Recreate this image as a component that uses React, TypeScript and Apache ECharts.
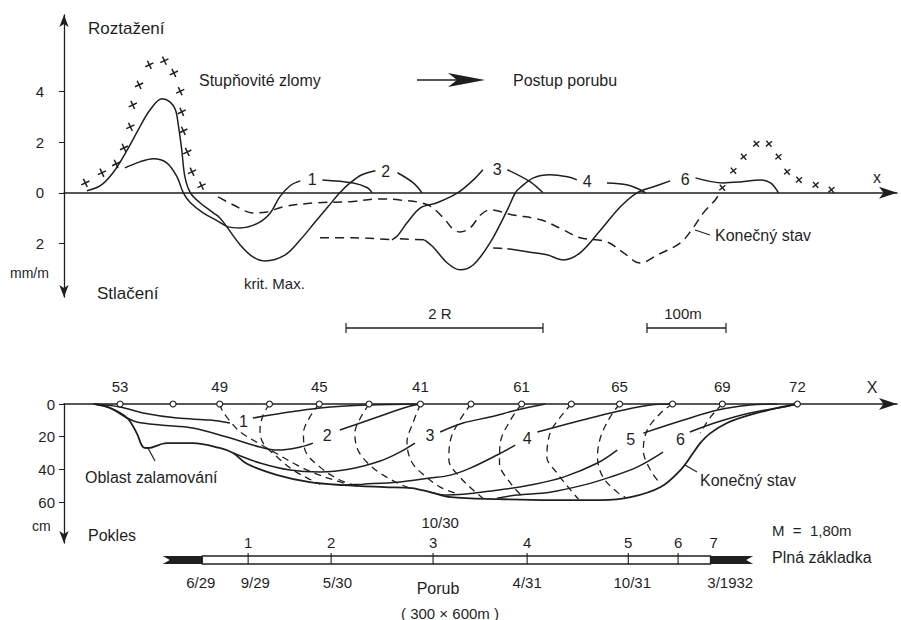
import React, { useEffect, useRef } from 'react';
import * as echarts from 'echarts';

const FONT = "'Liberation Sans', 'DejaVu Sans', Arial, sans-serif";
const INK = '#1f1f1f';

// ---------- top panel: strain (mm/m), x in metres ----------
const crossesLeft = [[27,0.39],[48,0.79],[66,1.14],[76,1.77],[84,2.6],[87,3.46],[95,4.25],[108,5.04],[127,5.2],[139,4.72],[147,4.0],[149,3.19],[151,2.44],[156,1.61],[162,0.83],[174,0.28]];
const crossesRight = [[833,0.2],[847,0.87],[860,1.42],[876,1.93],[892,1.93],[904,1.42],[915,0.83],[930,0.51],[951,0.31],[971,0.12]];

const strain1Head = [[77,0.98],[96,1.22],[113,1.34],[130,1.18],[143,0.63],[151,0],[160,-0.39],[176,-0.79],[194,-1.1],[208,-1.34],[223,-1.38],[246,-1.18],[261,-0.79],[273,-0.16],[286,0.28],[299,0.47]];
const strain1Tail = [[327,0.51],[366,0.39],[384,0.2],[390,0]];
const strain2Head = [[29,0.08],[46,0.28],[62,0.79],[80,1.69],[96,2.6],[109,3.27],[124,3.7],[134,3.58],[141,3.27],[145,2.6],[149,1.69],[153,0.63],[160,0],[172,-0.39],[189,-0.79],[197,-0.98],[206,-1.34],[223,-2.05],[239,-2.52],[254,-2.68],[280,-2.44],[299,-1.85],[318,-1.14],[334,-0.55],[349,0],[362,0.39],[377,0.71],[394,0.87]];
const strain2Tail = [[422,0.79],[442,0.39],[453,0]];
const strain3Dash = [[324,-1.77],[366,-1.77],[415,-1.85]];
const strain3Head = [[415,-1.85],[422,-1.69],[434,-1.18],[451,-0.59],[472,-0.39],[498,0],[518,0.51],[530,0.91]];
const strain3Tail = [[561,0.91],[590,0.43],[606,0]];
const strain4Dash = [[425,-1.81],[456,-1.85]];
const strain4Head = [[456,-1.85],[467,-2.13],[485,-2.76],[501,-3.03],[518,-2.83],[539,-1.97],[561,-0.67],[571,0],[577,0.2],[594,0.59],[615,0.71],[637,0.63],[649,0.51]];
const strain4Tail = [[687,0.39],[713,0.31],[729,0.12],[736,0]];
const strain6Dash = [[543,-2.17],[561,-2.2]];
const strain6Head = [[561,-2.2],[586,-2.32],[611,-2.44],[632,-2.64],[653,-2.36],[679,-1.46],[704,-0.55],[725,0],[746,0.24],[767,0.47]];
const strain6Tail = [[799,0.59],[834,0.39],[856,0.43],[881,0.51],[894,0.39],[904,0]];
const strainFinal = [[195,-0.16],[214,-0.47],[239,-0.79],[257,-0.75],[277,-0.55],[320,-0.39],[362,-0.35],[396,-0.24],[425,-0.28],[460,-0.47],[480,-0.98],[492,-1.42],[501,-1.54],[514,-1.38],[527,-0.87],[539,-0.67],[568,-0.87],[603,-1.06],[632,-1.46],[653,-1.77],[687,-1.93],[708,-2.36],[729,-2.76],[751,-2.44],[780,-1.97],[796,-1.38],[809,-0.79],[824,-0.28],[830,0]];
const strainLabels: [number, number, string][] = [[314,0.51,'1'],[407,0.83,'2'],[548,0.91,'3'],[662,0.43,'4'],[786,0.51,'6']];
const strainTicks = [-2, 0, 2, 4];

// ---------- bottom panel: subsidence (cm) ----------
const subs1Head = [[37,0],[71,1.8],[100,5.5],[143,8.6],[185,9.8],[210,11.6]];
const subs1Tail = [[239,8.6],[277,5.5],[324,2.4],[384,0.6],[451,0]];
const subs2Head = [[39,0],[58,2.4],[80,8.6],[92,11],[122,12.9],[163,14.7],[206,20.2],[248,26.3],[270,28.2],[299,26.3],[315,23.9]];
const subs2Tail = [[349,15.9],[375,11.6],[404,6.7],[434,1.8],[451,0]];
const subs3Head = [[214,30],[248,36.1],[286,40.4],[324,41.6],[362,39.8],[400,34.9],[425,29.4],[444,23.9]];
const subs3Tail = [[476,17.1],[505,11.6],[539,8],[573,3.7],[609,0]];
const subs4Head = [[353,49.6],[378,49],[422,47.8],[463,45.3],[489,43.5],[514,39.2],[548,31.2],[571,25.1]];
const subs4Tail = [[599,17.1],[632,12.9],[666,8.6],[708,3.7],[742,0.6],[767,0]];
const subs5Head = [[463,53.9],[485,55.7],[548,52.7],[590,49.6],[632,44.7],[675,36.1],[700,28.2]];
const subs5Tail = [[733,17.8],[784,9.8],[827,3.7],[868,0.6],[903,0]];
const subs6Head = [[548,57.6],[573,55.7],[615,53.9],[657,49.6],[691,44.7],[725,38.6],[758,29.4]];
const subs6Tail = [[792,17.1],[827,11],[868,5.5],[910,1.8],[928,0]];
const subsFinal = [[39,0],[58,2.4],[80,8.6],[92,17.8],[100,26.3],[106,26.9],[130,23.9],[163,23.9],[197,26.9],[214,30],[232,36.7],[270,43.5],[311,47.8],[353,49.6],[405,50.8],[440,51.4],[463,53.9],[489,57],[552,58.2],[615,58.8],[679,58.8],[717,57],[755,50.8],[780,40.4],[796,30],[805,23.9],[818,17.8],[839,11.6],[868,6.7],[903,2.4],[928,0]];
const subsLabels: [number, number, string][] = [[227,11,'1'],[333,19,'2'],[463,19,'3'],[586,20.8,'4'],[717,22,'5'],[780,22,'6']];
const timeLines = [
  [[197,0],[200,3.7],[206,8],[223,17.1],[248,24.5],[270,30.6],[295,37.4],[320,42.9],[346,47.2],[362,49.6]],
  [[260,0],[252,6.7],[248,15.9],[252,23.9],[270,32.5],[290,40.4],[308,45.3],[324,49]],
  [[323,0],[311,8],[303,17.8],[305,28.2],[324,38.6],[349,46.5],[375,50.8]],
  [[386,0],[375,8.6],[368,17.8],[372,28.2],[387,37.4],[406,44.1],[425,49],[438,51.4]],
  [[451,0],[442,11],[434,23.3],[440,35.5],[457,44.1],[476,50.8],[495,54.5]],
  [[515,0],[501,9.8],[489,22],[487,34.3],[501,44.7],[518,52.7],[530,57.6]],
  [[579,0],[565,9.8],[552,23.9],[551,36.1],[565,48.4],[581,57]],
  [[642,0],[628,8],[615,17.8],[611,32.5],[624,42.3],[641,52.7],[651,58.2]],
  [[703,0],[691,8],[679,20.2],[675,32.5],[682,44.7],[700,53.9],[710,57]],
  [[770,0],[755,5.5],[738,15.9],[733,28.2],[742,40.4],[755,49]],
  [[833,0],[818,8],[805,17.8]],
];
const surfaceX = [71,138,197,260,323,386,451,515,579,642,703,770,833,928];
const surfaceNames = ['53','','49','','45','','41','','61','','65','','69','72'];
const subsTicks = [0, 20, 40, 60];

// ---------- face advance band (Porub) ----------
const porubSegments = [[125,175,0],[175,818,1],[818,872,2]];
const faceX = [233,338,467,586,714,777];
const faceNumX = [233,338,467,586,714,777,822];
const faceNums = ['1','2','3','4','5','6','7'];
const dateX = [173,242,346,586,719,843];
const dateTexts = ['6/29','9/29','5/30','4/31','10/31','3/1932'];

const XMAX = 1054;

function ln(data: number[][], grid: number, dash?: number[], width = 1.5) {
  return {
    type: 'line', xAxisIndex: grid, yAxisIndex: grid, data, smooth: 0.35,
    symbol: 'none', silent: true, z: 3,
    lineStyle: { color: INK, width, type: dash ?? 'solid' },
  };
}
const hidden = { color: 'rgba(0,0,0,0)', opacity: 1 };
function labelsSeries(items: [number, number, string][], grid: number) {
  return {
    type: 'scatter', xAxisIndex: grid, yAxisIndex: grid, symbolSize: 1, silent: true, z: 5,
    itemStyle: hidden,
    data: items.map(([x, y, t]) => ({ value: [x, y], name: t })),
    label: { show: true, position: 'inside', formatter: '{b}', fontSize: 16, color: INK, fontFamily: FONT, opacity: 1 },
  };
}
function T(text: string, x: number, y: number, size = 16, align = 'left') {
  return { type: 'text', x, y, silent: true, style: { text, fill: INK, font: `${size}px ${FONT}`, align, verticalAlign: 'middle' } };
}
function L(x1: number, y1: number, x2: number, y2: number, w = 1.3) {
  return { type: 'line', silent: true, shape: { x1, y1, x2, y2 }, style: { stroke: INK, lineWidth: w } };
}

const xAxisBase = { type: 'value', min: 0, max: XMAX, axisTick: { show: false }, axisLabel: { show: false }, splitLine: { show: false } };
const lblStyle = { color: INK, fontSize: 15, fontFamily: FONT, opacity: 1 };

const option: any = {
  animation: false,
  backgroundColor: '#fff',
  grid: [
    { left: 64, right: 4, top: 15, height: 282 },
    { left: 64, right: 4, top: 404, height: 139 },
    { left: 64, right: 4, top: 556, height: 8 },
  ],
  xAxis: [
    { ...xAxisBase, gridIndex: 0, axisLine: { onZero: true, symbol: ['none', 'arrow'], symbolSize: [9, 18], lineStyle: { color: INK, width: 1.5 } } },
    { ...xAxisBase, gridIndex: 1, position: 'top', axisLine: { onZero: false, symbol: ['none', 'arrow'], symbolSize: [9, 18], lineStyle: { color: INK, width: 1.5 } } },
    { ...xAxisBase, gridIndex: 2, show: false },
  ],
  yAxis: [
    {
      type: 'value', gridIndex: 0, min: -4.1, max: 7, splitLine: { show: false },
      axisLine: { show: true, symbol: ['arrow', 'arrow'], symbolSize: [7, 12], lineStyle: { color: INK, width: 1.3 } },
      axisTick: { show: true, length: 5, customValues: strainTicks, lineStyle: { color: INK } },
      axisLabel: { customValues: strainTicks, margin: 20, formatter: (v: number) => String(Math.abs(v)), color: INK, fontSize: 15, fontFamily: FONT },
    },
    {
      type: 'value', gridIndex: 1, min: 0, max: 85, inverse: true, splitLine: { show: false },
      axisLine: { show: true, symbol: ['arrow', 'none'], symbolSize: [7, 12], lineStyle: { color: INK, width: 1.3 } },
      axisTick: { show: true, length: 5, customValues: subsTicks, lineStyle: { color: INK } },
      axisLabel: { customValues: subsTicks, margin: 9, color: INK, fontSize: 15, fontFamily: FONT },
    },
    { type: 'value', gridIndex: 2, min: 0, max: 1, show: false },
  ],
  series: [
    // top
    {
      type: 'scatter', xAxisIndex: 0, yAxisIndex: 0, data: crossesLeft, silent: true,
      symbol: 'path://M5 0L5 10M0 5L10 5', symbolSize: 9, symbolRotate: 25,
      itemStyle: { color: 'none', borderColor: INK, borderWidth: 1.5, opacity: 1 },
    },
    {
      type: 'scatter', xAxisIndex: 0, yAxisIndex: 0, data: crossesRight, silent: true,
      symbol: 'path://M5 0L5 10M0 5L10 5', symbolSize: 8, symbolRotate: 40,
      itemStyle: { color: 'none', borderColor: INK, borderWidth: 1.4, opacity: 1 },
    },
    ln(strain1Head, 0), ln(strain1Tail, 0),
    ln(strain2Head, 0), ln(strain2Tail, 0),
    ln(strain3Dash, 0, [9, 6]), ln(strain3Head, 0), ln(strain3Tail, 0),
    ln(strain4Dash, 0, [9, 6]), ln(strain4Head, 0), ln(strain4Tail, 0),
    ln(strain6Dash, 0, [9, 6]), ln(strain6Head, 0), ln(strain6Tail, 0),
    ln(strainFinal, 0, [9, 6]),
    labelsSeries(strainLabels, 0),
    // bottom
    ln(subs1Head, 1), ln(subs1Tail, 1),
    ln(subs2Head, 1), ln(subs2Tail, 1),
    ln(subs3Head, 1), ln(subs3Tail, 1),
    ln(subs4Head, 1), ln(subs4Tail, 1),
    ln(subs5Head, 1), ln(subs5Tail, 1),
    ln(subs6Head, 1), ln(subs6Tail, 1),
    ln(subsFinal, 1, undefined, 1.8),
    ...timeLines.map((d) => ln(d, 1, [7, 5], 1.3)),
    labelsSeries(subsLabels, 1),
    {
      type: 'scatter', xAxisIndex: 1, yAxisIndex: 1, silent: true, z: 6,
      symbol: 'circle', symbolSize: 6,
      itemStyle: { color: '#fff', borderColor: INK, borderWidth: 1.1, opacity: 1 },
      data: surfaceX.map((x, i) => ({ value: [x, 0], name: surfaceNames[i] })),
      label: { show: true, position: 'top', distance: 6, formatter: '{b}', ...lblStyle },
    },
    // band
    {
      type: 'custom', xAxisIndex: 2, yAxisIndex: 2, silent: true, clip: false,
      encode: { x: [0, 1], y: 2 },
      data: [...porubSegments, ...faceX.map((x) => [x, x, 3])],
      renderItem: (params: any, api: any) => {
        const a = api.value(0), b = api.value(1), k = api.value(2);
        const p0 = api.coord([a, 1]);
        const p1 = api.coord([b, 0]);
        const x0 = p0[0], y0 = p0[1], x1 = p1[0], y1 = p1[1];
        const ym = (y0 + y1) / 2, n = 7;
        if (k === 0) return { type: 'polygon', shape: { points: [[x0, y0], [x1, y0], [x1, y1], [x0, y1], [x0 + n, ym]] }, style: { fill: INK } };
        if (k === 2) return { type: 'polygon', shape: { points: [[x0, y0], [x1, y0], [x1 - n, ym], [x1, y1], [x0, y1]] }, style: { fill: INK } };
        if (k === 1) return { type: 'rect', shape: { x: x0, y: y0, width: x1 - x0, height: y1 - y0 }, style: { fill: '#fff', stroke: INK, lineWidth: 1.3 } };
        return { type: 'line', shape: { x1: x0, y1: y0 - 3, x2: x0, y2: y1 }, style: { stroke: INK, lineWidth: 1.1 } };
      },
    },
    {
      type: 'scatter', xAxisIndex: 2, yAxisIndex: 2, symbolSize: 1, silent: true,
      itemStyle: hidden,
      data: faceNumX.map((x, i) => ({ value: [x, 1], name: faceNums[i] })),
      label: { show: true, position: 'top', distance: 6, formatter: '{b}', ...lblStyle },
    },
    {
      type: 'scatter', xAxisIndex: 2, yAxisIndex: 2, symbolSize: 1, silent: true,
      itemStyle: hidden,
      data: dateX.map((x, i) => ({ value: [x, 0], name: dateTexts[i] })),
      label: { show: true, position: 'bottom', distance: 10, formatter: '{b}', ...lblStyle },
    },
    {
      type: 'scatter', xAxisIndex: 2, yAxisIndex: 2, symbolSize: 1, silent: true,
      itemStyle: hidden,
      data: [{ value: [476, 1], name: '10/30' }],
      label: { show: true, position: 'top', distance: 26, formatter: '{b}', ...lblStyle },
    },
  ],
  graphic: [
    T('Roztažení', 88, 28, 17),
    T('Stupňovité zlomy', 199, 80, 16),
    L(417, 80, 458, 80, 1.4),
    { type: 'polygon', silent: true, shape: { points: [[485, 80], [448, 73], [457, 80], [448, 87]] }, style: { fill: INK } },
    T('Postup porubu', 513, 80, 16),
    T('mm/m', 10, 273, 14),
    T('Stlačení', 97, 293, 17),
    T('krit. Max.', 244, 283, 15),
    L(695, 230, 710, 235, 1.2),
    T('Konečný stav', 715, 235, 16),
    T('x', 877, 177, 16, 'center'),
    T('2 R', 440, 313, 15, 'center'),
    L(346, 328, 543, 328, 1.3), L(346, 323, 346, 333, 1.2), L(543, 323, 543, 333, 1.2),
    T('100m', 683, 313, 15, 'center'),
    L(647, 328, 726, 328, 1.3), L(647, 323, 647, 333, 1.2), L(726, 323, 726, 333, 1.2),
    T('X', 872, 387, 16, 'center'),
    L(148, 448, 155, 461, 1.2),
    T('Oblast zalamování', 85, 477, 16),
    L(685, 465, 697, 472, 1.2),
    T('Konečný stav', 700, 480, 16),
    T('cm', 32, 526, 14),
    T('Pokles', 88, 535, 16),
    T('M  =  1,80m', 772, 530, 15),
    T('Plná základka', 772, 557, 16),
    T('Porub', 438, 588, 16, 'center'),
    T('( 300 × 600m )', 450, 613, 15, 'center'),
  ],
};

export default function App() {
  const ref = useRef<HTMLDivElement>(null);
  useEffect(() => {
    const chart = echarts.init(ref.current!, null, { renderer: 'svg' });
    chart.setOption(option);
    return () => chart.dispose();
  }, []);
  return <div ref={ref} style={{ width: 901, height: 620, position: 'absolute', left: 0, top: 0, background: '#fff' }} />;
}
